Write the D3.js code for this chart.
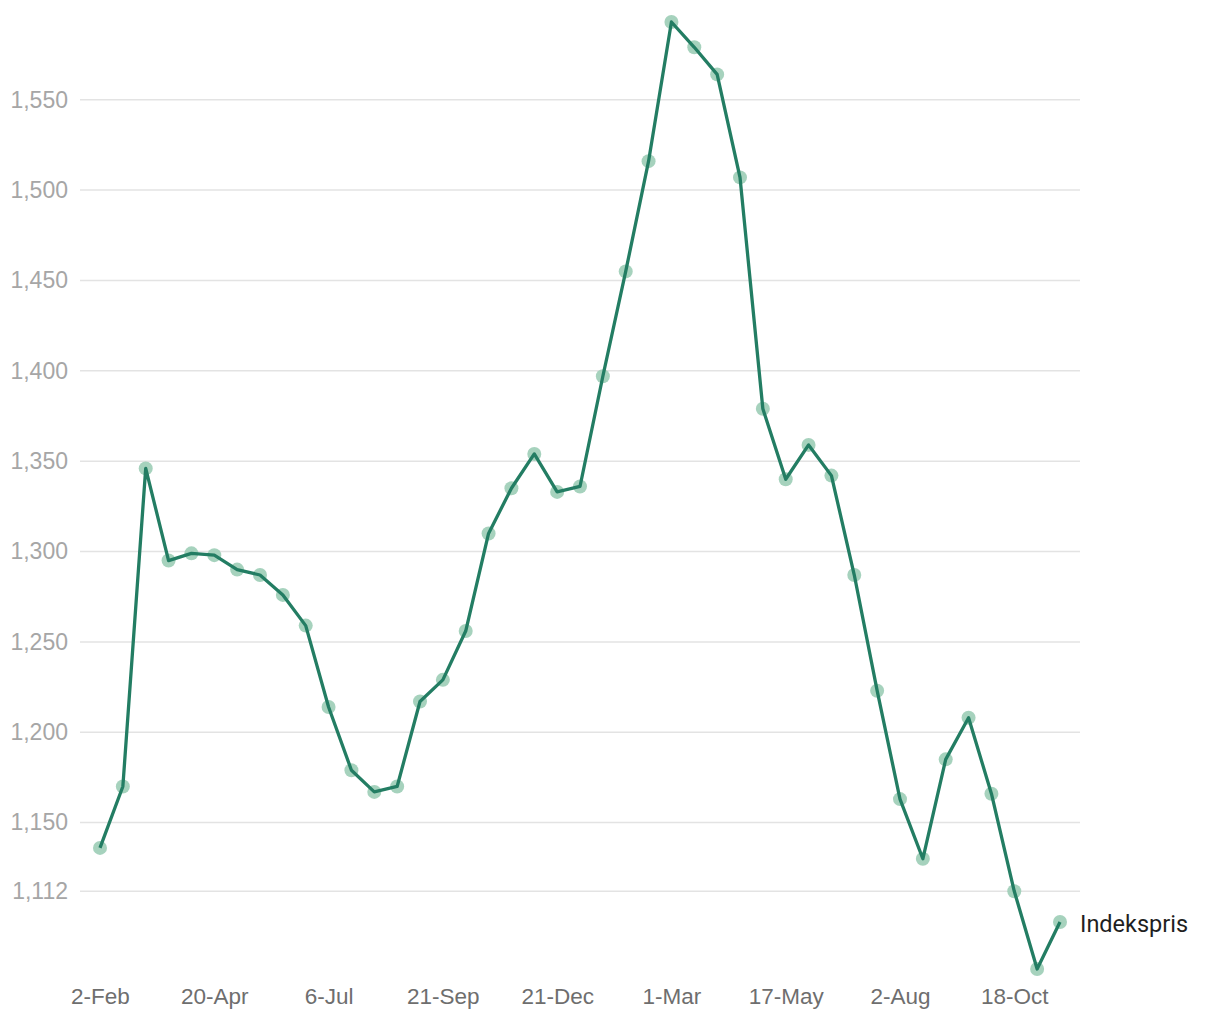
<!DOCTYPE html>
<html>
<head>
<meta charset="utf-8">
<script src="https://cdn.jsdelivr.net/npm/d3@7"></script>
<style>
  html, body { margin: 0; padding: 0; background: #fff; }
  svg { display: block; font-family: Roboto, "Noto Sans", sans-serif; }
</style>
</head>
<body>
<svg id="chart" width="1220" height="1020"></svg>
<script>
const dates = ["2-Feb","17-Feb","3-Mar","18-Mar","4-Apr","20-Apr","5-May","20-May","4-Jun","20-Jun",
  "6-Jul","21-Jul","5-Aug","21-Aug","5-Sep","21-Sep","8-Oct","26-Oct","13-Nov","3-Dec",
  "21-Dec","4-Jan","18-Jan","1-Feb","15-Feb","1-Mar","16-Mar","31-Mar","16-Apr","2-May",
  "17-May","1-Jun","17-Jun","2-Jul","17-Jul","2-Aug","17-Aug","1-Sep","17-Sep","2-Oct",
  "18-Oct","2-Nov","17-Nov"];
const values = [1136,1170,1346,1295,1299,1298,1290,1287,1276,1259,
  1214,1179,1167,1170,1217,1229,1256,1310,1335,1354,
  1333,1336,1397,1455,1516,1593,1579,1564,1507,1379,
  1340,1359,1342,1287,1223,1163,1130,1185,1208,1166,
  1112,1069,1095];
const xTickLabels = ["2-Feb","20-Apr","6-Jul","21-Sep","21-Dec","1-Mar","17-May","2-Aug","18-Oct"];
const yTickValues = [1112,1150,1200,1250,1300,1350,1400,1450,1500,1550];
const seriesName = "Indekspris";

const svg = d3.select("#chart");
const x = d3.scalePoint().domain(dates).range([100, 1060]);
const y = d3.scaleLinear().domain(d3.extent(values)).range([969, 22]);

// y axis labels
const yAxis = d3.axisLeft(y).tickValues(yTickValues).tickFormat(d3.format(",")).tickSize(0).tickPadding(0);
const gy = svg.append("g").attr("transform", "translate(68,0)").call(yAxis);
gy.select(".domain").remove();
gy.selectAll("text").attr("fill", "#a6a6a6").style("font-size", "23px").attr("x", 0).attr("text-anchor", "end");
// grid
svg.append("g").selectAll("line").data(yTickValues).join("line")
  .attr("x1", 80).attr("x2", 1080)
  .attr("y1", d => y(d)).attr("y2", d => y(d))
  .attr("stroke", "#e3e3e3").attr("stroke-width", 1.5);

// x axis
const xAxis = d3.axisBottom(x).tickValues(xTickLabels).tickSize(0).tickPadding(0);
const gx = svg.append("g").attr("transform", "translate(0,984)").call(xAxis);
gx.select(".domain").remove();
gx.selectAll("text").attr("fill", "#6e6e6e").style("font-size", "22.5px").attr("dy", "0.71em").attr("y", 4);

// points
const data = dates.map((d, i) => ({d, v: values[i]}));
svg.append("g").selectAll("circle").data(data).join("circle")
  .attr("cx", d => x(d.d)).attr("cy", d => y(d.v)).attr("r", 7)
  .attr("fill", "#9ccdb6").attr("opacity", 0.9);

// line
svg.append("path").datum(data)
  .attr("fill", "none").attr("stroke", "#237d63").attr("stroke-width", 3.3)
  .attr("stroke-linejoin", "round")
  .attr("d", d3.line().x(d => x(d.d)).y(d => y(d.v)));

// label
const last = data[data.length - 1];
svg.append("text").attr("x", 1080).attr("y", y(last.v) + 2).attr("dy", "0.35em")
  .attr("fill", "#1f1f1f").style("font-size", "23.5px").text(seriesName);
</script>
</body>
</html>
